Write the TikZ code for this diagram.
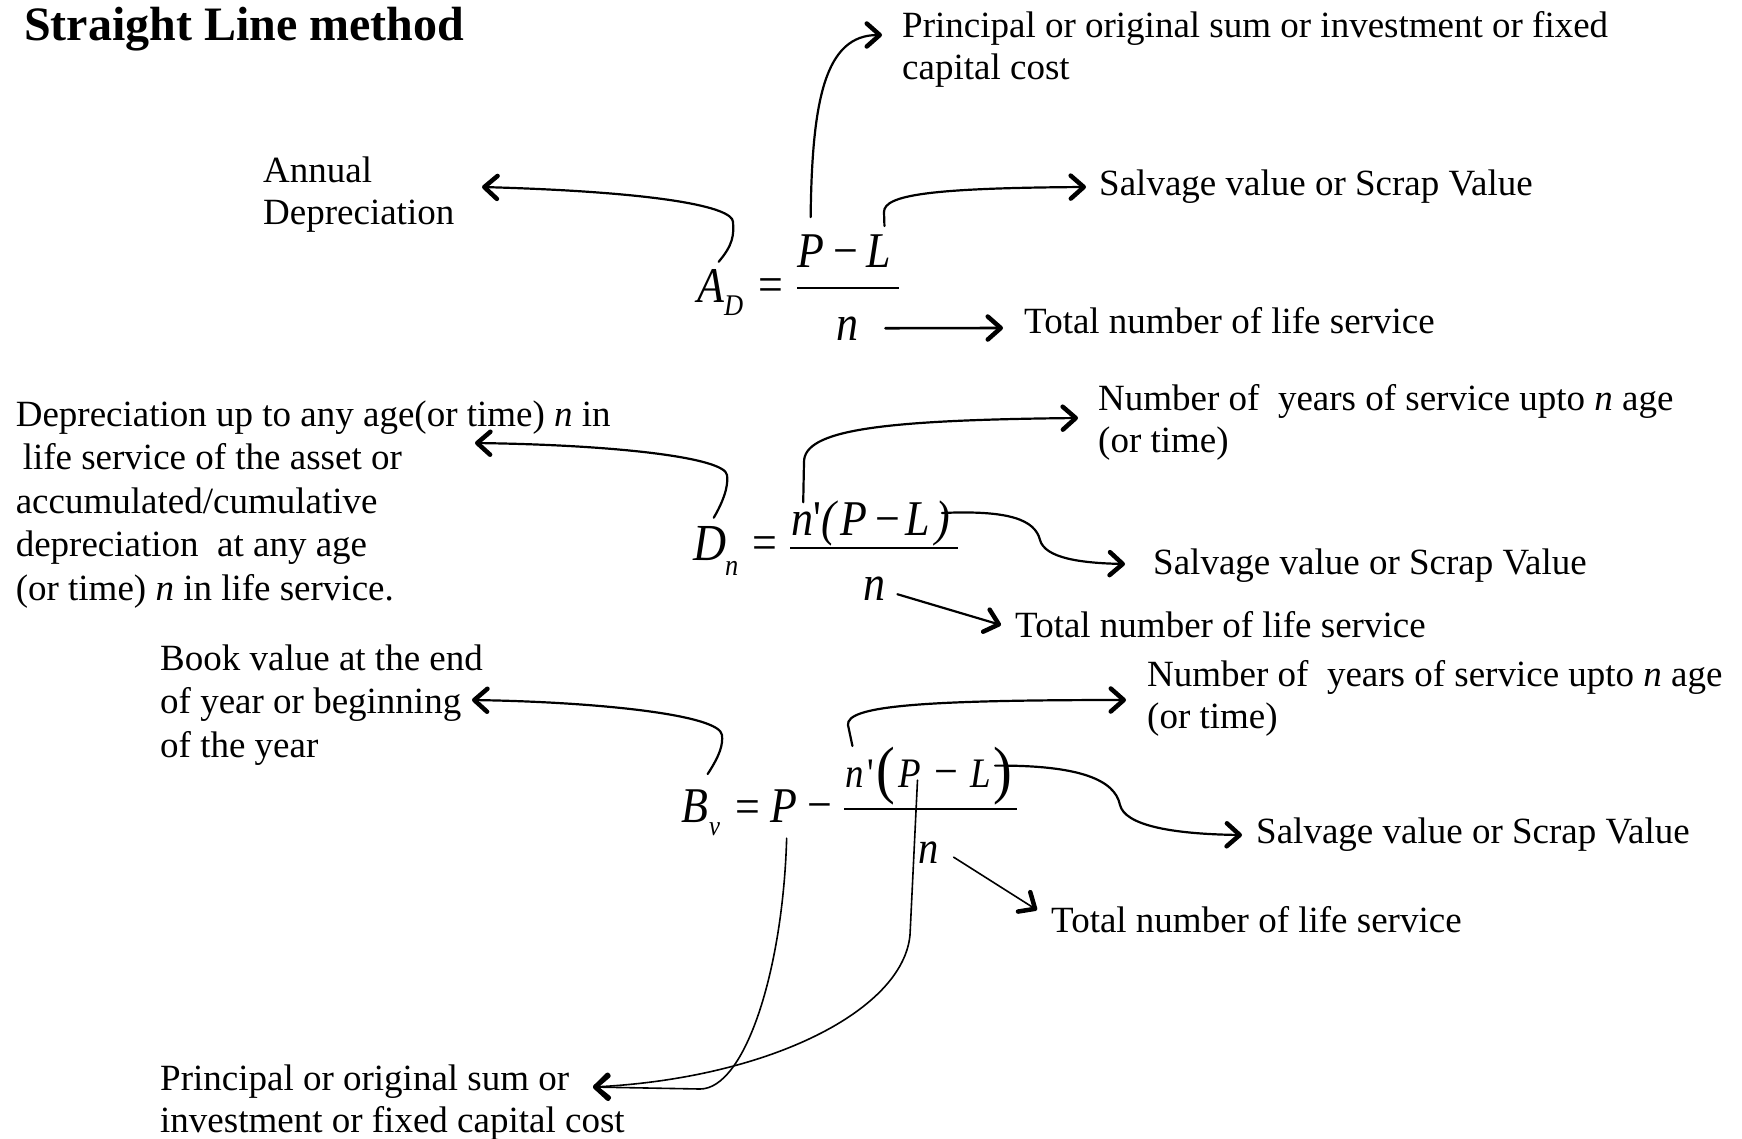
\documentclass[tikz,border=0pt]{standalone}
\usepackage{fontspec}
\setmainfont{Liberation Serif}
\newfontfamily\eqf[FakeStretch=0.88]{Liberation Serif}
\usetikzlibrary{arrows.meta}
\begin{document}
\begin{tikzpicture}[x=1pt,y=-1pt,
  lbl/.style={anchor=base west,inner sep=0pt,align=left,font=\fontsize{37}{42}\selectfont},
  eqi/.style={anchor=base west,inner sep=0pt,font={\eqf\itshape\fontsize{#1}{#1}\selectfont}},
  equ/.style={anchor=base west,inner sep=0pt,font={\eqf\fontsize{#1}{#1}\selectfont}},
  con/.style={line width=2.2pt,line cap=round,-{Straight Barb[length=13pt,width=23pt,line width=4.5pt 0,round]}},
  conthin/.style={con,line width=1.6pt},
  fbar/.style={line width=2.6pt}]
\useasboundingbox (0,0) rectangle (1742,1138);

% title
\node[anchor=base west,inner sep=0pt,font=\bfseries\fontsize{48}{52}\selectfont] (title) at (24,40) {Straight Line method};

% labels (anchor = baseline of the last line)
\node[lbl] (lP1) at (902,79) {Principal or original sum or investment or fixed\\capital cost};
\node[lbl] (lAD) at (263,224) {Annual\\Depreciation};
\node[lbl] (lS1) at (1099,195) {Salvage value or Scrap Value};
\node[lbl] (lT1) at (1024,333) {Total number of life service};
\node[lbl,font=\fontsize{37}{43.5}\selectfont] (lD2) at (15.6,600) {Depreciation up to any age(or time) \textit{n} in\\\hspace*{7pt}life service of the asset or\\accumulated/cumulative\\depreciation\ \ at any age\\(or time) \textit{n} in life service.};
\node[lbl] (lN2) at (1098,452) {Number of\ \ years of service upto \textit{n} age\\(or time)};
\node[lbl] (lS2) at (1153,574) {Salvage value or Scrap Value};
\node[lbl] (lT2) at (1015,637) {Total number of life service};
\node[lbl,font=\fontsize{37}{43.5}\selectfont] (lBv) at (160,757) {Book value at the end\\of year or beginning\\of the year};
\node[lbl] (lN3) at (1147,728) {Number of\ \ years of service upto \textit{n} age\\(or time)};
\node[lbl] (lS3) at (1256,843) {Salvage value or Scrap Value};
\node[lbl] (lT3) at (1051,932) {Total number of life service};
\node[lbl] (lPb) at (160,1132) {Principal or original sum or\\investment or fixed capital cost};

% formula 1
\node[eqi=50] (A1) at (697,302) {A};
\node[eqi=30] (A1s) at (724,315) {D};
\node[equ=50] (A1eq) at (758,301) {=};
\draw[fbar] (797,288) -- (899,288);
\node[eqi=50] (P1) at (797,267) {P};
\node[equ=50] (m1) at (833,267) {−};
\node[eqi=50] (L1) at (866,267) {L};
\node[eqi=50] (n1) at (836,340) {n};

% formula 2
\node[eqi=52] (D2) at (693,560) {D};
\node[eqi=30] (D2s) at (725,575) {n};
\node[equ=50] (D2eq) at (752,559) {=};
\draw[fbar] (790,548) -- (958,548);
\node[eqi=50] (n2a) at (791,535) {n};
\node[equ=50] (pr2) at (813,535) {\textquotesingle};
\node[eqi=50] (lp2) at (821,535) {(};
\node[eqi=50] (P2) at (840,535) {P};
\node[equ=50] (m2) at (875,535) {−};
\node[eqi=50] (L2) at (905,535) {L};
\node[eqi=50] (rp2) at (935,535) {)};
\node[eqi=50] (n2) at (863,600) {n};

% formula 3
\node[eqi=50] (B3) at (681,822) {B};
\node[eqi=28] (B3s) at (709,835) {v};
\node[equ=50] (B3eq) at (735,823) {=};
\node[eqi=50] (P3) at (770,822) {P};
\node[equ=50] (m3) at (807,821) {−};
\draw[fbar] (844,809) -- (1017,809);
\node[eqi=42] (n3a) at (845,787) {n};
\node[equ=42] (pr3) at (867,787) {\textquotesingle};
\node[equ=64] (lp3) at (876,791) {(};
\node[eqi=42] (P3n) at (898,787) {P};
\node[equ=48] (m3n) at (934,787) {−};
\node[eqi=42] (L3n) at (970,787) {L};
\node[equ=64] (rp3) at (993,791) {)};
\node[eqi=46] (n3) at (918,863) {n};

% arrow tips
\coordinate (tA1) at (482,187);
\coordinate (tP1) at (882,35);
\coordinate (tS1) at (1086,187);
\coordinate (tT1) at (1003,328);
\coordinate (tD2) at (475,443);
\coordinate (tN2) at (1078,418);
\coordinate (tS2) at (1125,564);
\coordinate (tT2) at (1001,625);
\coordinate (tB3) at (472,700);
\coordinate (tN3) at (1126,700);
\coordinate (tS3) at (1242,835);
\coordinate (tT3) at (1037,910);
\coordinate (tPb) at (593,1087);

% connectors formula 1
\draw[con] ([shift={(8,-7)}]A1.north) .. controls (733,245) and (734,235) .. (733,222) .. controls (733,207) and (660,192) .. (tA1);
\draw[con] ([shift={(0,-17)}]P1.north) .. controls (812,100) and (825,35) .. (tP1);
\draw[con] ([shift={(6,-8)}]L1.north) -- (884,212) .. controls (884,195) and (930,188) .. (tS1);
\draw[con,line width=2.6pt] ([shift={(27,0)}]n1.east) -- (tT1);

% connectors formula 2
\draw[con] ([shift={(4,-8)}]D2.north) .. controls (727,495) and (728,482) .. (727,475) .. controls (725,458) and (620,445) .. (tD2);
\draw[con] ([shift={(1,-9)}]n2a.north) -- (804,462) .. controls (804,430) and (880,420) .. (tN2);
\draw[con] ([shift={(-8,-10)}]rp2.east) .. controls (1010,510) and (1035,520) .. (1040,540) .. controls (1045,558) and (1080,563) .. (tS2);
\draw[con] ([shift={(12,6)}]n2.east) -- (tT2);

% connectors formula 3
\draw[con] ([shift={(13,-15)}]B3.north) .. controls (720,755) and (723,745) .. (722,735) .. controls (720,715) and (600,702) .. (tB3);
\draw[con] ([shift={(-2,-21)}]n3a.north) -- (848,725) .. controls (846,706) and (920,700) .. (tN3);
\draw[con] ([shift={(-17,-10)}]rp3.east) .. controls (1080,765) and (1115,780) .. (1120,805) .. controls (1125,825) and (1170,834) .. (tS3);
\draw[conthin] ([shift={(15,5)}]n3.east) -- (tT3);
\draw[conthin] ([shift={(3,16)}]P3.south) .. controls (783,970) and (745,1089) .. (700,1089) -- (tPb);
\draw[conthin] ([shift={(8,-7)}]P3n.south) -- (910,935) .. controls (903,1010) and (770,1078) .. (tPb);
\end{tikzpicture}
\end{document}
